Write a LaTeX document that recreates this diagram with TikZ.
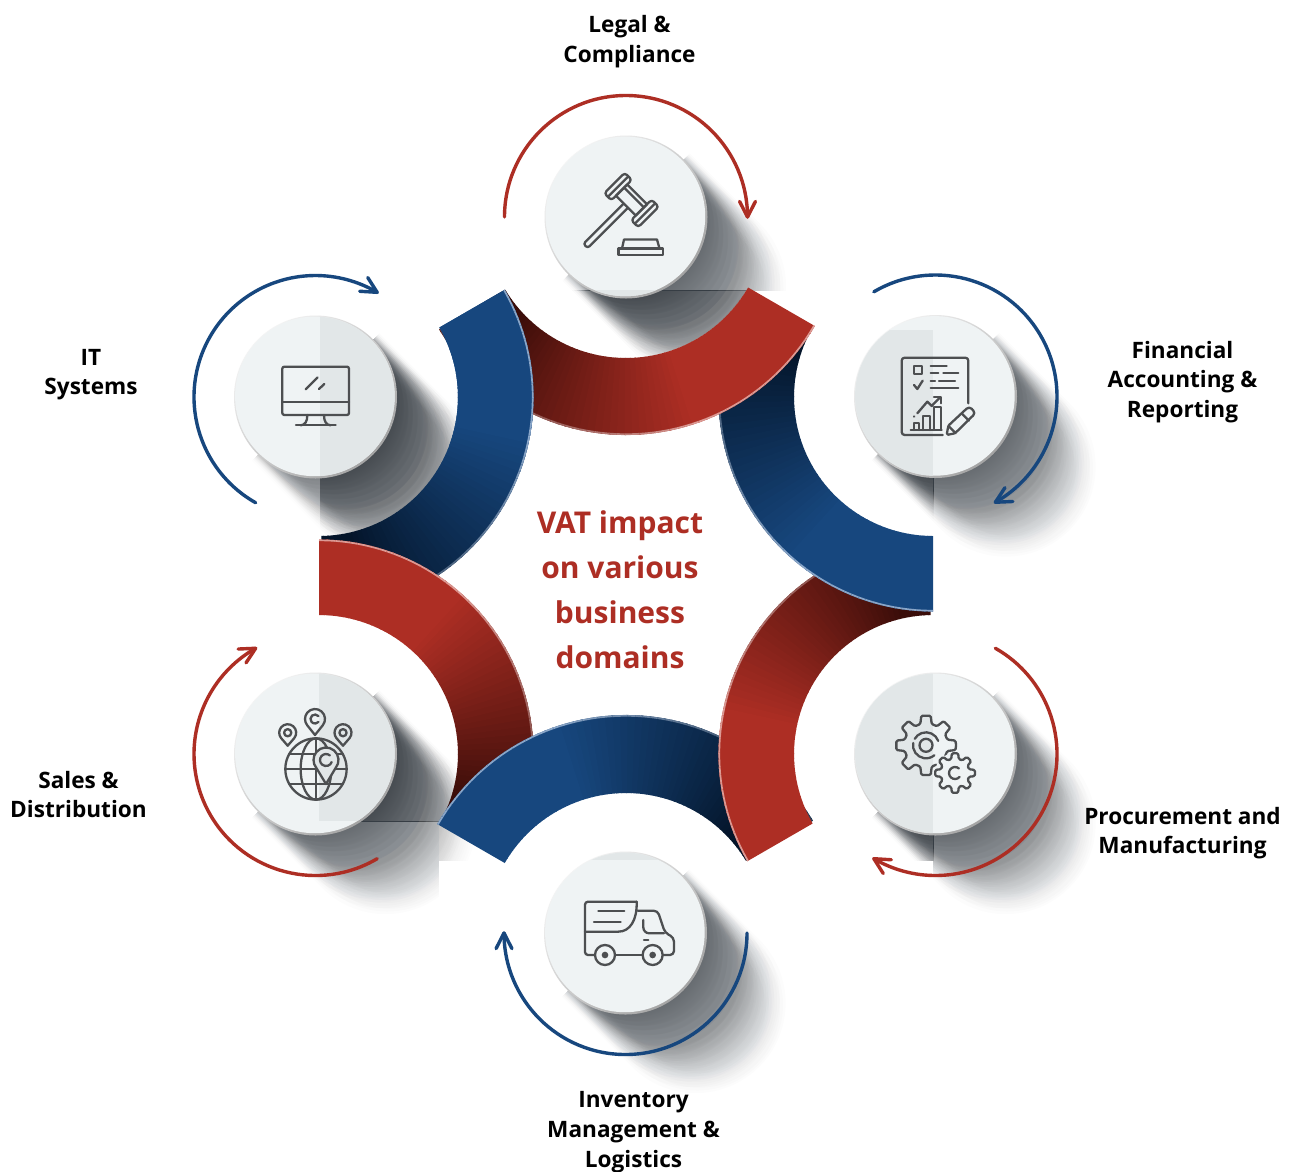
\documentclass[tikz,border=0pt]{standalone}
\usepackage{fontspec}
\setmainfont{Noto Sans}
\newfontfamily\labfont{Open Sans}
\definecolor{rbase}{HTML}{AD2E24}
\definecolor{rdark}{HTML}{3A0D09}
\definecolor{rhi}{HTML}{DC9A94}
\definecolor{bbase}{HTML}{17477E}
\definecolor{bdark}{HTML}{04152A}
\definecolor{bhi}{HTML}{8AA6C8}
\definecolor{shcol}{HTML}{363D44}
\definecolor{discbase}{HTML}{EFF3F4}
\definecolor{disctint}{HTML}{E2E7E8}
\definecolor{icon}{HTML}{4D4F51}
\tikzset{
  iconline/.style={draw=icon,line width=2.3,line cap=round,line join=round},
  arrowline/.style={line width=3.4,line cap=round,line join=round},
  lab/.style={align=center,font=\labfont\bfseries\fontsize{22.6}{29.7}\selectfont,text=black,inner sep=0pt},
  ttl/.style={align=center,font=\labfont\bfseries\fontsize{30}{45}\selectfont,text=rbase,inner sep=0pt},
}
\newcommand\castshadow[3]{%
  \begin{scope}[shift={(#1,#2)},rotate=-45]
  \foreach \k in {1,...,90}{%
    \pgfmathsetmacro\len{105*\k/90}%
    \pgfmathsetmacro\uu{mod(\k*37,90)/90}%
    \pgfmathsetmacro\rad{79+(\uu-0.5)*(4+22*\k/90)}%
    \fill[shcol,fill opacity=#3] (0,\rad) -- (\len,\rad) arc[start angle=90,end angle=-90,radius=\rad] -- (0,-\rad) -- cycle;
  }
  \end{scope}}
% cx cy ri ro hidden-angle base dark hi
\def\bandfrom{0}
\newcommand\band[8]{%
  \begin{scope}[shift={(#1,#2)}]
  \foreach \i in {\bandfrom,...,59}{%
    \pgfmathsetmacro\aA{#5+max(1,2*\i-0.4)}%
    \pgfmathsetmacro\aB{#5+2*\i+2}%
    \pgfmathsetmacro\pct{100*max(0,min(1,(\i/60-0.1)/0.55))}%
    \colorlet{bc}{#6!\pct!#7}%
    \colorlet{hc}{#8!\pct!#7!70!#8}%
    \pgfmathsetmacro\rr{#4-0.8}%
    \fill[bc] (\aA:#3) arc[start angle=\aA,end angle=\aB,radius=#3] -- (\aB:#4) arc[start angle=\aB,end angle=\aA,radius=#4] -- cycle;
    \draw[hc,line width=1.7] (\aA:\rr) arc[start angle=\aA,end angle=\aB,radius=\rr];
  }
  \end{scope}}
\newcommand\disc[2]{%
  \shade[top color=white!96!black,bottom color=black!36,shading angle=45] (#1,#2) circle[radius=81.5];
  \fill[discbase] ($(#1,#2)+(-0.6,0.6)$) circle[radius=79.8];}
\newcommand\disctintrect[5]{%
  \begin{scope}
  \clip ($(#1,#2)+(-0.6,0.6)$) circle[radius=79.8];
  \fill[disctint] (#3,#4) rectangle (#5);
  \end{scope}}
% cx cy start end colour, always clockwise
\newcommand\carrow[5]{%
  \begin{scope}[shift={(#1,#2)}]
  \draw[#5,arrowline] (#3:121.5) arc[start angle=#3,end angle=#4,radius=121.5];
  \pgfmathsetmacro\bA{#4+90+27}\pgfmathsetmacro\bB{#4+90-27}%
  \draw[#5,arrowline] (#4:121.5) ++(\bA:17.5) -- (#4:121.5) -- ++(\bB:17.5);
  \end{scope}}
\newcommand\pinshape[6]{% x y r tip fill innerkind
  \begin{scope}[shift={(#1,#2)}]
  \fill[fill=#5] (-40:#3) arc[start angle=-40,end angle=220,radius=#3] -- (0,-#4) -- cycle;
  \draw[iconline] (-40:#3) arc[start angle=-40,end angle=220,radius=#3] -- (0,-#4) -- cycle;
  #6
  \end{scope}}
\newcommand\gearshape[5]{% x y Rout Rroot fill
  \begin{scope}[shift={(#1,#2)}]
  \filldraw[iconline,fill=#5,rounded corners=1.3] (0:#3)
    \foreach \t in {0,45,...,315}{
      -- (\t+9:#3) -- (\t+15:#4) -- (\t+30:#4) -- (\t+36:#3)
    } -- cycle;
  \end{scope}}
\usetikzlibrary{calc}
\begin{document}
\begin{tikzpicture}[x=1pt,y=1pt]
\useasboundingbox (0,0) rectangle (1292,-1171);
\fill[white] (0,0) rectangle (1292,-1171);

% ---------- shadows ----------
% top
\begin{scope}\clip (500,-100) rectangle (900,-290);\castshadow{626}{-217}{0.0107}\end{scope}
\begin{scope}\clip (626,-217) circle[radius=141];\clip (450,-290) rectangle (800,-450);\castshadow{626}{-217}{0.02}\end{scope}
% upper left
\begin{scope}\clip (150,-300) rectangle (320,-537);\castshadow{315.5}{-397}{0.0075}\end{scope}
\begin{scope}\clip (320,-300) rectangle (560,-537);\castshadow{315.5}{-397}{0.02}\end{scope}
% upper right
\begin{scope}\clip (933,-300) rectangle (1200,-640);\castshadow{935.5}{-396.5}{0.0107}\end{scope}
\begin{scope}\clip (800,-330) rectangle (933,-537);\castshadow{935.5}{-396.5}{0.02}\end{scope}
% lower right
\begin{scope}\clip (933,-650) rectangle (1200,-1000);\castshadow{935.5}{-754}{0.0107}\end{scope}
\begin{scope}\clip (800,-650) rectangle (933,-860);\castshadow{935.5}{-754}{0.02}\end{scope}
% lower left
\begin{scope}\clip (150,-650) rectangle (319,-1000);\castshadow{315.5}{-754}{0.0107}\end{scope}
\begin{scope}\clip (319,-650) rectangle (560,-821);\castshadow{315.5}{-754}{0.02}\end{scope}
\begin{scope}\clip (319,-821) rectangle (439,-1000);\castshadow{315.5}{-754}{0.0107}\end{scope}
\begin{scope}\clip (439,-821) rectangle (560,-860);\castshadow{315.5}{-754}{0.006}\end{scope}
% bottom
\castshadow{625.5}{-933}{0.0107}

% ---------- bands (each over the next one clockwise) ----------
\band{319}{-397}{139}{214.5}{-90}{bbase}{bdark}{bhi}
\band{319}{-754}{139}{214.5}{-30}{rbase}{rdark}{rhi}
\band{626}{-933}{140}{218}{30}{bbase}{bdark}{bhi}
\band{933}{-754}{139}{214.5}{90}{rbase}{rdark}{rhi}
\band{933}{-397}{139}{214.5}{150}{bbase}{bdark}{bhi}
\band{626}{-217}{141}{218}{210}{rbase}{rdark}{rhi}
\def\bandfrom{35}
\band{319}{-397}{139}{214.5}{-90}{bbase}{bdark}{bhi}
\def\bandfrom{0}

% ---------- discs ----------
\disc{626}{-217}\disctintrect{626}{-217}{500}{-290}{760,-320}
\disc{315.5}{-397}\disctintrect{315.5}{-397}{320}{-300}{420,-500}
\disc{935.5}{-396.5}\disctintrect{935.5}{-396.5}{840}{-330}{933,-500}
\disc{935.5}{-754}\disctintrect{935.5}{-754}{840}{-660}{933,-850}
\disc{315.5}{-754}\disctintrect{315.5}{-754}{319}{-660}{420,-821}
\disc{625.5}{-933}\disctintrect{625.5}{-933}{500}{-840}{760,-860}

% ---------- arrows ----------
\carrow{626}{-217}{180}{0}{rbase}
\carrow{935.5}{-396.5}{120.5}{-60.5}{bbase}
\carrow{935.5}{-754}{60.5}{-120.5}{rbase}
\carrow{625.5}{-933}{0}{-180}{bbase}
\carrow{315.5}{-754}{-59.5}{-240.5}{rbase}
\carrow{315.5}{-397}{240.5}{59.5}{bbase}

% ---------- gavel ----------
\begin{scope}[shift={(631.5,-200)},rotate=-45]
\draw[iconline,rounded corners=2.5] (-3,-9) -- (-3,-65) -- (3,-65) -- (3,-9);
\draw[iconline] (-14,-8) rectangle (14,8);
\draw[iconline] (-14,3.5) -- (14,3.5);
\draw[iconline,rounded corners=3] (-24,-14.5) rectangle (-14,14.5);
\draw[iconline,rounded corners=3] (14,-14.5) rectangle (24,14.5);
\draw[iconline] (-19,-14) -- (-19,14);
\draw[iconline] (19,-14) -- (19,14);
\end{scope}
\draw[iconline] (618.5,-255) rectangle (663,-248.5);
\draw[iconline] (622,-248.5) -- (624,-239.5) -- (657,-239.5) -- (659.5,-248.5);

% ---------- financial icon ----------
\begin{scope}[shift={(840,-260)},x=0.3333pt,y=-0.3333pt]
\draw[iconline,rounded corners=3] (385,430) -- (385,293) -- (185,293) -- (185,525) -- (308,525);
\draw[iconline] (222,318) rectangle (247,343);
\foreach \a/\b/\c in {272/320/318,272/295/340,310/355/340,272/285/363,297/345/363,272/355/385}
  \draw[iconline] (\a,\c) -- (\b,\c);
\draw[iconline] (222,375) -- (232,387) -- (248,362);
\draw[iconline] (212,510) -- (305,510);
\draw[iconline] (222,510) -- (222,488) -- (238,488) -- (238,510);
\draw[iconline] (250,510) -- (250,468) -- (270,468) -- (270,510);
\draw[iconline] (282,510) -- (282,440) -- (302,440) -- (302,510);
\draw[iconline] (232,460) -- (262,425) -- (275,438) -- (300,412);
\draw[iconline] (282,410) -- (302,410) -- (302,430);
\draw[iconline] (222,470) -- (223,469);
\draw[iconline,rounded corners=1.5] (320,525) -- (325,497) -- (383,443) -- (392,443) -- (403,455) -- (403,463) -- (345,520) -- cycle;
\draw[iconline] (325,497) -- (347,520);
\draw[iconline] (365,460) -- (387,482);
\end{scope}

% ---------- gears ----------
\gearshape{926}{-745.3}{30}{22}{none}
\begin{scope}[shift={(926,-745.3)}]
\draw[iconline] (0,0) circle[radius=6.5];
\draw[iconline] (20:13) arc[start angle=20,end angle=150,radius=13];
\draw[iconline] (170:13) arc[start angle=170,end angle=310,radius=13];
\end{scope}
\fill[discbase] (955,-773) circle[radius=20];
\gearshape{955}{-773}{20}{14.5}{discbase}
\begin{scope}[shift={(955,-773)}]
\draw[iconline] (50:6) arc[start angle=50,end angle=320,radius=6];
\end{scope}

% ---------- globe ----------
\begin{scope}[shift={(180,-620)},x=0.3333pt,y=-0.3333pt]
\draw[iconline] (408,447) circle[radius=92];
\draw[iconline] (408,447) ellipse[x radius=46,y radius=92];
\draw[iconline] (408,355) -- (408,539);
\draw[iconline] (316,447) -- (500,447);
\draw[iconline] (328,402) -- (488,402);
\draw[iconline] (328,492) -- (488,492);
\end{scope}
\pinshape{315}{-719}{10}{16}{none}{\draw[iconline] (40:4.5) arc[start angle=40,end angle=320,radius=4.5];}
\pinshape{287.7}{-732.7}{8.5}{13}{none}{\draw[iconline] (0,0) circle[radius=3.6];}
\pinshape{343}{-732.7}{8.5}{13}{none}{\draw[iconline] (0,0) circle[radius=3.6];}
\pinshape{326}{-760}{12.5}{24}{disctint}{\draw[iconline] (50:6) arc[start angle=50,end angle=340,radius=6];}

% ---------- monitor ----------
\begin{scope}[shift={(190,-270)},x=0.3333pt,y=-0.3333pt]
\draw[iconline,rounded corners=2] (277,290) rectangle (477,435);
\draw[iconline] (277,395) -- (477,395);
\draw[iconline] (347,358) -- (383,322);
\draw[iconline] (387,357) -- (403,342);
\draw[iconline] (352,435) .. controls (352,455) and (345,465) .. (332,466);
\draw[iconline] (402,435) .. controls (402,455) and (409,465) .. (422,466);
\draw[iconline] (318,466) -- (437,466);
\end{scope}

% ---------- truck ----------
\begin{scope}[shift={(490,-840)},x=0.3333pt,y=-0.3333pt]
\draw[iconline,rounded corners=3] (315,345) -- (285,345) -- (285,185) -- (440,185);
\draw[iconline] (440,185) .. controls (442,240) and (420,275) .. (385,275) -- (285,275);
\draw[iconline] (375,345) -- (458,345);
\draw[iconline,rounded corners=4] (518,345) -- (552,345) -- (552,293) -- (525,278) -- (503,212) -- (443,212);
\draw[iconline,rounded corners=6] (460,240) -- (460,280) -- (522,280);
\draw[iconline] (462,300) -- (475,300);
\draw[iconline] (325,213) -- (403,213);
\draw[iconline] (312,245) -- (392,245);
\draw[iconline] (345,345) circle[radius=30];
\draw[iconline] (488,345) circle[radius=30];
\fill[icon] (345,345) circle[radius=10];
\fill[icon] (488,345) circle[radius=10];
\end{scope}

% ---------- labels ----------
\node[lab] (legal) at (629.5,-41.5) {Legal \&\\Compliance};
\node[lab] (fin) at (1182.5,-382) {Financial\\Accounting \&\\Reporting};
\node[lab] (proc) at (1182.5,-833) {Procurement and\\Manufacturing};
\node[lab] (inv) at (633.5,-1132) {Inventory\\Management \&\\Logistics};
\node[lab] (sales) at (78.5,-794.5) {Sales \&\\Distribution};
\node[lab] (it) at (91,-374.5) {IT\\Systems};
\node[ttl] (title) at (620,-590) {VAT impact\\on various\\business\\domains};
\end{tikzpicture}
\end{document}
